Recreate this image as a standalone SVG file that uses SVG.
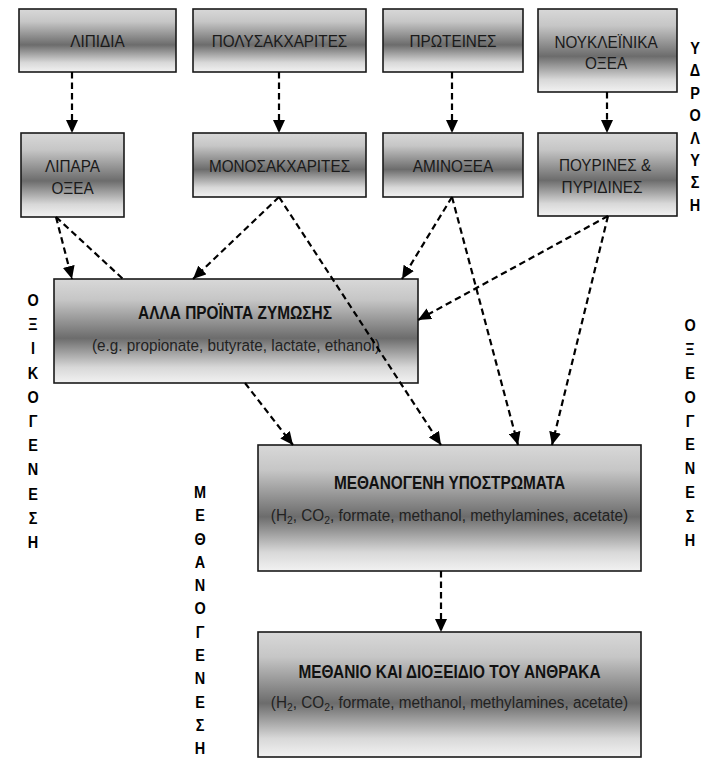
<svg xmlns="http://www.w3.org/2000/svg" width="704" height="762" viewBox="0 0 704 762">
<defs>
<linearGradient id="g" x1="0" y1="0" x2="0" y2="1">
<stop offset="0" stop-color="#d8d8d8"/>
<stop offset="0.2" stop-color="#c6c6c6"/>
<stop offset="0.57" stop-color="#6c6c6c"/>
<stop offset="0.85" stop-color="#d8d8d8"/>
<stop offset="1" stop-color="#f2f2f2"/>
</linearGradient>
<marker id="ah" markerUnits="userSpaceOnUse" markerWidth="14" markerHeight="12" refX="13" refY="6" orient="auto">
<path d="M0,0 L13,6 L0,12 z" fill="#000"/>
</marker>
<style>
.box{fill:url(#g);stroke:#1a1a1a;stroke-width:1.6}
.t{font-family:"Liberation Sans",Arial,sans-serif;font-size:17px;fill:#1a1a1a;text-anchor:middle}
.b{font-family:"Liberation Sans",Arial,sans-serif;font-size:17.5px;font-weight:bold;fill:#111;text-anchor:middle}
.s{font-family:"Liberation Sans",Arial,sans-serif;font-size:17px;fill:#222;text-anchor:middle}
.v{font-family:"Liberation Sans",Arial,sans-serif;font-size:17px;font-weight:bold;fill:#000;text-anchor:middle}
.c{fill:none;stroke:#000;stroke-width:2.2;stroke-dasharray:6.5 4}
.c.a{marker-end:url(#ah)}
</style>
</defs>

<g id="n_lipidia"><rect class="box" x="19" y="9" width="157" height="63"/><text class="t" transform="translate(97.5 0) scale(0.9 1)" x="0" y="47">ΛΙΠΙΔΙΑ</text></g>
<g id="n_polysakcharites"><rect class="box" x="193" y="9" width="173" height="63"/><text class="t" transform="translate(279.5 0) scale(0.9 1)" x="0" y="47">ΠΟΛΥΣΑΚΧΑΡΙΤΕΣ</text></g>
<g id="n_proteines"><rect class="box" x="383" y="9" width="140" height="63"/><text class="t" transform="translate(453 0) scale(0.9 1)" x="0" y="47">ΠΡΩΤΕΙΝΕΣ</text></g>
<g id="n_noukleinika"><rect class="box" x="538" y="9" width="139" height="83"/><text class="t" transform="translate(606 0) scale(0.9 1)" x="0" y="48">ΝΟΥΚΛΕΪΝΙΚΑ</text><text class="t" transform="translate(606 0) scale(0.9 1)" x="0" y="69">ΟΞΕΑ</text></g>

<g id="n_lipara"><rect class="box" x="21" y="133" width="103" height="84"/><text class="t" transform="translate(72.5 0) scale(0.9 1)" x="0" y="172">ΛΙΠΑΡΑ</text><text class="t" transform="translate(72.5 0) scale(0.9 1)" x="0" y="194">ΟΞΕΑ</text></g>
<g id="n_monosakcharites"><rect class="box" x="193" y="133" width="173" height="64"/><text class="t" transform="translate(279.5 0) scale(0.9 1)" x="0" y="172">ΜΟΝΟΣΑΚΧΑΡΙΤΕΣ</text></g>
<g id="n_aminoxea"><rect class="box" x="383" y="133" width="140" height="64"/><text class="t" transform="translate(453 0) scale(0.9 1)" x="0" y="172">ΑΜΙΝΟΞΕΑ</text></g>
<g id="n_pourines"><rect class="box" x="538" y="133" width="139" height="83"/><text class="t" transform="translate(605 0) scale(0.9 1)" x="0" y="171">ΠΟΥΡΙΝΕΣ &amp;</text><text class="t" transform="translate(602 0) scale(0.9 1)" x="0" y="193">ΠΥΡΙΔΙΝΕΣ</text></g>

<g id="n_alla"><rect class="box" x="54" y="279" width="364" height="104"/><text class="b" transform="translate(235 0) scale(0.88 1)" x="0" y="319">ΑΛΛΑ ΠΡΟΪΝΤΑ ΖΥΜΩΣΗΣ</text><text class="s" transform="translate(236 0) scale(0.9 1)" x="0" y="351">(e.g. propionate, butyrate, lactate, ethanol)</text></g>

<g id="n_methanogeni"><rect class="box" x="258" y="445" width="383" height="126"/><text class="b" transform="translate(449.5 0) scale(0.88 1)" x="0" y="489">ΜΕΘΑΝΟΓΕΝΗ ΥΠΟΣΤΡΩΜΑΤΑ</text><text class="s" transform="translate(449.5 0) scale(0.9 1)" x="0" y="521">(H<tspan font-size="11.5" dy="3">2</tspan><tspan dy="-3">, CO</tspan><tspan font-size="11.5" dy="3">2</tspan><tspan dy="-3">, formate, methanol, methylamines, acetate)</tspan></text></g>

<g id="n_methanio"><rect class="box" x="258" y="632" width="383" height="125"/><text class="b" transform="translate(449.5 0) scale(0.88 1)" x="0" y="678">ΜΕΘΑΝΙΟ ΚΑΙ ΔΙΟΞΕΙΔΙΟ ΤΟΥ ΑΝΘΡΑΚΑ</text><text class="s" transform="translate(449.5 0) scale(0.9 1)" x="0" y="708">(H<tspan font-size="11.5" dy="3">2</tspan><tspan dy="-3">, CO</tspan><tspan font-size="11.5" dy="3">2</tspan><tspan dy="-3">, formate, methanol, methylamines, acetate)</tspan></text></g>

<g id="connectors">
<line class="c a" x1="72" y1="72" x2="72" y2="133"/>
<line class="c a" x1="279" y1="72" x2="279" y2="133"/>
<line class="c a" x1="452" y1="72" x2="452" y2="133"/>
<line class="c a" x1="607" y1="92" x2="607" y2="133"/>
<line class="c a" x1="56" y1="217" x2="72" y2="279"/>
<line class="c" x1="56" y1="217" x2="123" y2="279"/>
<line class="c a" x1="279" y1="197" x2="193" y2="279"/>
<line class="c a" x1="279" y1="197" x2="441" y2="445"/>
<line class="c a" x1="452" y1="197" x2="402" y2="279"/>
<line class="c a" x1="452" y1="197" x2="518" y2="445"/>
<line class="c a" x1="608" y1="216" x2="418" y2="320"/>
<line class="c a" x1="608" y1="216" x2="552" y2="445"/>
<line class="c a" x1="245" y1="383" x2="293" y2="445"/>
<line class="c a" x1="441" y1="571" x2="441" y2="632"/>
</g>

<g id="labels">
<text class="v" transform="translate(695 0) scale(0.85 1)"><tspan x="0" y="54">Υ</tspan><tspan x="0" y="76.4">Δ</tspan><tspan x="0" y="98.8">Ρ</tspan><tspan x="0" y="121.2">Ο</tspan><tspan x="0" y="143.6">Λ</tspan><tspan x="0" y="166">Υ</tspan><tspan x="0" y="188.4">Σ</tspan><tspan x="0" y="210.8">Η</tspan></text>
<text class="v" transform="translate(33 0) scale(0.85 1)"><tspan x="0" y="306">Ο</tspan><tspan x="0" y="330.2">Ξ</tspan><tspan x="0" y="354.4">Ι</tspan><tspan x="0" y="378.6">Κ</tspan><tspan x="0" y="402.8">Ο</tspan><tspan x="0" y="427">Γ</tspan><tspan x="0" y="451.2">Ε</tspan><tspan x="0" y="475.4">Ν</tspan><tspan x="0" y="499.6">Ε</tspan><tspan x="0" y="523.8">Σ</tspan><tspan x="0" y="548">Η</tspan></text>
<text class="v" transform="translate(690 0) scale(0.85 1)"><tspan x="0" y="331">Ο</tspan><tspan x="0" y="354.9">Ξ</tspan><tspan x="0" y="378.8">Ε</tspan><tspan x="0" y="402.7">Ο</tspan><tspan x="0" y="426.6">Γ</tspan><tspan x="0" y="450.5">Ε</tspan><tspan x="0" y="474.4">Ν</tspan><tspan x="0" y="498.3">Ε</tspan><tspan x="0" y="522.2">Σ</tspan><tspan x="0" y="546">Η</tspan></text>
<text class="v" transform="translate(200 0) scale(0.85 1)"><tspan x="0" y="498">Μ</tspan><tspan x="0" y="521.3">Ε</tspan><tspan x="0" y="544.6">Θ</tspan><tspan x="0" y="567.9">Α</tspan><tspan x="0" y="591.2">Ν</tspan><tspan x="0" y="614.5">Ο</tspan><tspan x="0" y="637.8">Γ</tspan><tspan x="0" y="661.1">Ε</tspan><tspan x="0" y="684.4">Ν</tspan><tspan x="0" y="707.7">Ε</tspan><tspan x="0" y="731">Σ</tspan><tspan x="0" y="754.3">Η</tspan></text>
</g>
</svg>
